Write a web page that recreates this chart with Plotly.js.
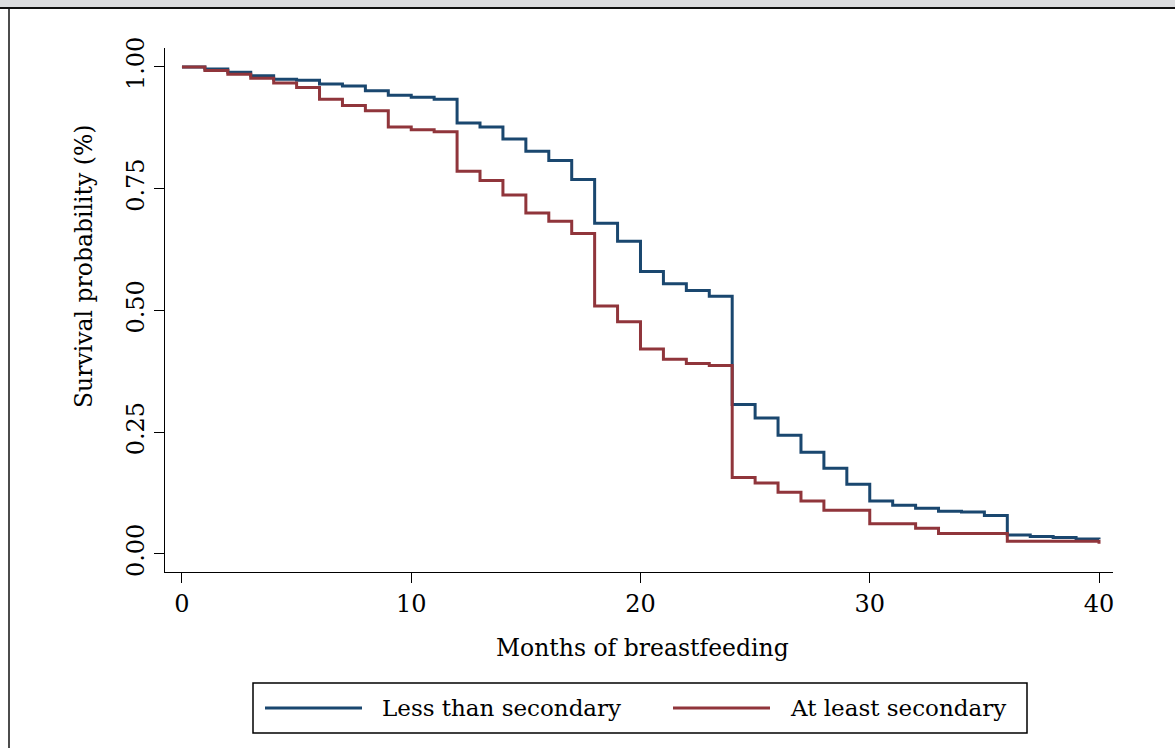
<!DOCTYPE html>
<html>
<head>
<meta charset="utf-8">
<script src="https://cdn.plot.ly/plotly-3.0.1.min.js"></script>
<style>html,body{margin:0;padding:0;background:#fff;}#chart{width:1175px;height:748px;}</style>
</head>
<body>
<div id="chart"></div>
<script>
// Data (Kaplan-Meier step estimates at each month)
var months = [0,1,2,3,4,5,6,7,8,9,10,11,12,13,14,15,16,17,18,19,20,21,22,23,24,25,26,27,28,29,30,31,32,33,34,35,36,37,38,39,40];
var lessThanSecondary = [1.000,0.996,0.989,0.982,0.975,0.973,0.965,0.961,0.951,0.942,0.938,0.934,0.885,0.877,0.852,0.827,0.808,0.769,0.679,0.642,0.580,0.555,0.541,0.529,0.307,0.279,0.244,0.209,0.176,0.143,0.109,0.100,0.094,0.088,0.086,0.079,0.039,0.036,0.034,0.031,0.030];
var atLeastSecondary = [1.000,0.993,0.985,0.977,0.967,0.958,0.934,0.921,0.910,0.877,0.871,0.867,0.786,0.767,0.737,0.700,0.683,0.658,0.509,0.477,0.421,0.400,0.391,0.387,0.157,0.146,0.127,0.109,0.090,0.090,0.062,0.062,0.053,0.042,0.042,0.042,0.026,0.026,0.026,0.026,0.021];
var seriesNames = ["Less than secondary", "At least secondary"];
var xTicks = [0,10,20,30,40];
var yTicks = [0,0.25,0.5,0.75,1];
var yTickLabels = ["0.00","0.25","0.50","0.75","1.00"];
var xTitle = "Months of breastfeeding";
var yTitle = "Survival probability (%)";

var W = 1175, H = 748;
var M = {l:165, r:62, t:48, b:176};
var pw = W - M.l - M.r, ph = H - M.t - M.b;
function px(x){ return (x - M.l) / pw; }
function py(y){ return (H - M.b - y) / ph; }

var FONT = "DejaVu Serif, serif";
var BLUE = "#1a476f", RED = "#90353b";

var traces = [
  {x: months, y: lessThanSecondary, name: seriesNames[0], mode: "lines", line: {shape: "hv", color: BLUE, width: 3}, showlegend: false},
  {x: months, y: atLeastSecondary, name: seriesNames[1], mode: "lines", line: {shape: "hv", color: RED, width: 3}, showlegend: false}
];

var shapes = [
  // top caption band (cut off)
  {type:"rect", xref:"paper", yref:"paper", x0:px(0), x1:px(W), y0:py(7), y1:py(0), fillcolor:"#dcdddf", line:{width:0}, layer:"below"},
  {type:"line", xref:"paper", yref:"paper", x0:px(0), x1:px(W), y0:py(8), y1:py(8), line:{color:"#111", width:2}},
  // left frame
  {type:"line", xref:"paper", yref:"paper", x0:px(9), x1:px(9), y0:py(8), y1:py(H), line:{color:"#111", width:1.5}},
  // legend box
  {type:"rect", xref:"paper", yref:"paper", x0:px(253), x1:px(1027), y0:py(733), y1:py(683), line:{color:"#000", width:1.5}, fillcolor:"rgba(0,0,0,0)"},
  {type:"line", xref:"paper", yref:"paper", x0:px(265), x1:px(362), y0:py(708), y1:py(708), line:{color:BLUE, width:3}},
  {type:"line", xref:"paper", yref:"paper", x0:px(673), x1:px(770), y0:py(708), y1:py(708), line:{color:RED, width:3}}
];

var annotations = [
  {xref:"paper", yref:"paper", x:px(380), y:py(708), xanchor:"left", yanchor:"middle", text:seriesNames[0], showarrow:false, font:{family:FONT, size:23, color:"#000"}},
  {xref:"paper", yref:"paper", x:px(788), y:py(708), xanchor:"left", yanchor:"middle", text:seriesNames[1], showarrow:false, font:{family:FONT, size:23, color:"#000"}},
  {xref:"paper", yref:"paper", x:px(642), y:py(648), xanchor:"center", yanchor:"middle", text:xTitle, showarrow:false, font:{family:FONT, size:23.5, color:"#000"}},
  {xref:"paper", yref:"paper", x:px(84), y:py(267), xanchor:"center", yanchor:"middle", textangle:-90, text:yTitle, showarrow:false, font:{family:FONT, size:23.5, color:"#000"}}
];

var layout = {
  width: W, height: H, autosize: false,
  margin: M,
  paper_bgcolor: "#fff", plot_bgcolor: "#fff",
  showlegend: false,
  xaxis: {
    range: [-0.74, 40.61], tickmode: "array", tickvals: xTicks, ticktext: xTicks.map(String),
    showgrid: false, zeroline: false, showline: true, linecolor: "#000", linewidth: 1,
    ticks: "outside", ticklen: 10, tickwidth: 1, tickcolor: "#000",
    tickfont: {family: FONT, size: 24, color: "#000"}
  },
  yaxis: {
    range: [-0.037, 1.039], tickmode: "array", tickvals: yTicks, ticktext: yTickLabels,
    showgrid: false, zeroline: false, showline: true, linecolor: "#000", linewidth: 1,
    ticks: "outside", ticklen: 10, tickwidth: 1, tickcolor: "#000", tickangle: -90,
    tickfont: {family: FONT, size: 24, color: "#000"}
  },
  shapes: shapes,
  annotations: annotations
};

Plotly.newPlot("chart", traces, layout, {displayModeBar: false, staticPlot: true});
</script>
</body>
</html>
